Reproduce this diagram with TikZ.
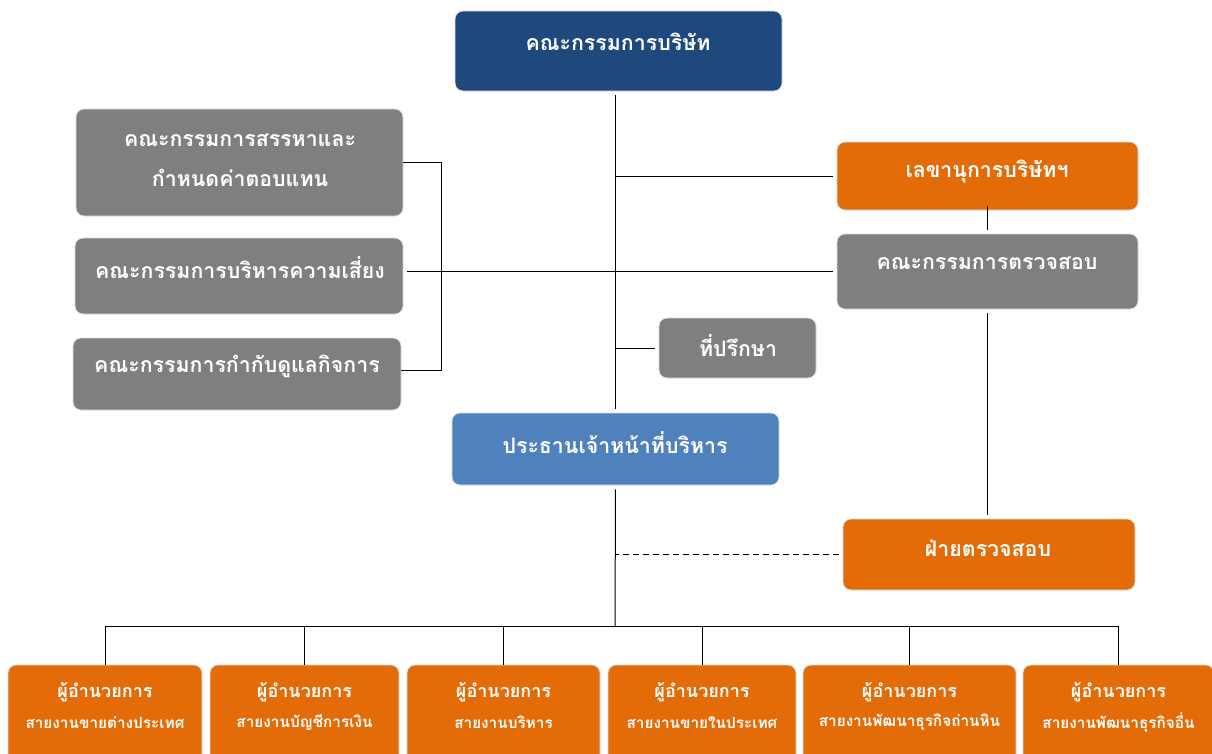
\documentclass[tikz,border=0pt]{standalone}
\usepackage{fontspec}
\newfontfamily\thaifont[Script=Thai]{Loma}
\usetikzlibrary{fit,calc}
\definecolor{cnavy}{HTML}{1F497D}
\definecolor{cblue}{HTML}{4F81BD}
\definecolor{corange}{HTML}{E36C09}
\definecolor{cgray}{HTML}{7F7F7F}
\begin{document}
\begin{tikzpicture}[x=0.75pt,y=-0.75pt,
  box/.style={draw=black!12,line width=0.6pt,rounded corners=6pt,inner sep=0pt},
  txt/.style={text=white,font=\thaifont\bfseries\fontsize{16}{30}\selectfont,align=center,inner sep=0pt},
  btxt/.style={text=white,font=\thaifont\bfseries\fontsize{13.5}{15}\selectfont,inner sep=0pt},
  stxt/.style={text=white,font=\thaifont\bfseries\fontsize{11.5}{13}\selectfont,inner sep=0pt},
  conn/.style={draw=black,line width=0.75pt},
  gap/.style={shorten <=3pt,shorten >=3pt}]
\clip (0,0) rectangle (1212,753);
\fill[white] (0,0) rectangle (1212,753);
% boxes
\node[box,fill=cnavy,fit={(455,11) (782,91)}] (board) {};
\node[box,fill=cgray,fit={(76,109) (403,216)}] (nom) {};
\node[box,fill=cgray,fit={(75,238) (403,314)}] (risk) {};
\node[box,fill=cgray,fit={(73,338) (401,410)}] (gov) {};
\node[box,fill=corange,fit={(837,142) (1138,210)}] (sec) {};
\node[box,fill=cgray,fit={(837,234) (1138,309)}] (audit) {};
\node[box,fill=cgray,fit={(659,318) (816,378)}] (adv) {};
\node[box,fill=cblue,fit={(452,413) (779,485)}] (ceo) {};
\node[box,fill=corange,fit={(843,519) (1135,590)}] (ia) {};
\node[box,fill=corange,fit={(8,665) (202,775)}] (b1) {};
\node[box,fill=corange,fit={(210,665) (399,775)}] (b2) {};
\node[box,fill=corange,fit={(407,665) (600,775)}] (b3) {};
\node[box,fill=corange,fit={(608,665) (796,775)}] (b4) {};
\node[box,fill=corange,fit={(803,665) (1016,775)}] (b5) {};
\node[box,fill=corange,fit={(1023,665) (1214,775)}] (b6) {};
% texts
\node[txt] (tboard) at (618,42) {คณะกรรมการบริษัท};
\node[txt] (tnom) at (240,160) {คณะกรรมการสรรหาและ\\กำหนดค่าตอบแทน};
\node[txt] (trisk) at (240,268) {คณะกรรมการบริหารความเสี่ยง};
\node[txt] (tgov) at (237,366) {คณะกรรมการกำกับดูแลกิจการ};
\node[txt] (tsec) at (987,172) {เลขานุการบริษัทฯ};
\node[txt] (taudit) at (987,263) {คณะกรรมการตรวจสอบ};
\node[txt] (tadv) at (738,346) {ที่ปรึกษา};
\node[txt] (tceo) at (615,443) {ประธานเจ้าหน้าที่บริหาร};
\node[txt] (tia) at (988,548) {ฝ่ายตรวจสอบ};
\foreach \n/\s in {b1/สายงานขายต่างประเทศ,b2/สายงานบัญชีการเงิน,b3/สายงานบริหาร,b4/สายงานขายในประเทศ,b5/สายงานพัฒนาธุรกิจถ่านหิน,b6/สายงานพัฒนาธุรกิจอื่น}{
  \node[btxt] (\n a) at ($(\n.north)+(0,28)$) {ผู้อำนวยการ};
  \node[stxt] (\n b) at ($(\n.north)+(0,58)$) {\s};
}
% connectors
\coordinate (bus) at (615,626);
\draw[conn,gap] (ceo.north) -- (ceo.north |- board.south);
\draw[conn,shorten <=3pt] (sec.west) -- (sec.west -| ceo.north);
\draw[conn,gap] (audit.west -| risk.east) -- (audit.west);
\draw[conn] (nom.east) -- ++(38,0) |- ([yshift=3pt]gov.east);
\draw[conn,gap] (sec.south) -- (audit.south |- sec.south) -- (audit.north);
\draw[conn,gap] (audit.south) -- (audit.south |- ia.north);
\draw[conn,shorten <=3pt] (adv.west) -- (adv.west -| ceo.north);
\draw[conn,dash pattern=on 4.5pt off 3pt,shorten <=3pt] (ia.west) -- (ia.west -| ceo.north);
\draw[conn,shorten <=3pt] (ceo.south) -- (bus);
\draw[conn] (b1.north |- bus) -- (b6.north |- bus);
\foreach \n in {b1,b2,b3,b4,b5,b6}{\draw[conn] (\n.north |- bus) -- (\n.north);}
\end{tikzpicture}
\end{document}
